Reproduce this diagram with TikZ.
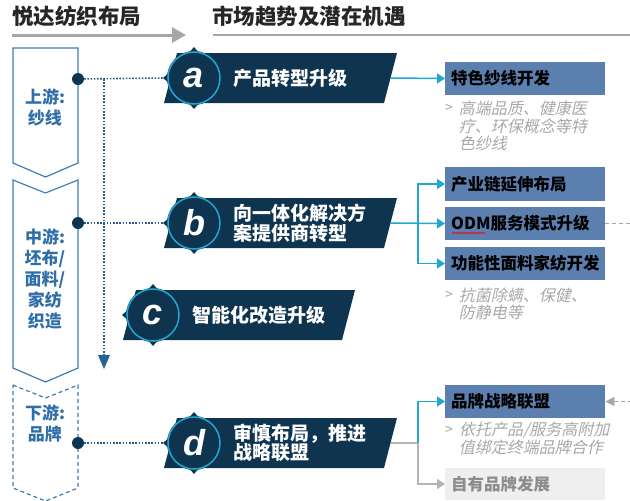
\documentclass[tikz,border=0pt]{standalone}
\usepackage{fontspec}
\setmainfont{Noto Sans CJK SC}
\newfontfamily\letfont{Liberation Sans}
\usetikzlibrary{arrows.meta,decorations.pathmorphing}
\definecolor{navy}{HTML}{0E3450}
\definecolor{cyanc}{HTML}{22A8CF}
\definecolor{steel}{HTML}{5B7FAE}
\definecolor{leftblue}{HTML}{3C7DB4}
\definecolor{lefttext}{HTML}{2F6FA8}
\definecolor{dotblue}{HTML}{245C8C}
\definecolor{hgrey}{HTML}{A6A6A6}
\definecolor{gtxt}{HTML}{A8A8A8}
\definecolor{lgbox}{HTML}{EFEFEF}
\definecolor{lgtxt}{HTML}{8C8C8C}
\definecolor{conngrey}{HTML}{B4B4B4}
\newcommand\mkbadge[6]{%
  \fill[navy] (#2+13,#4) -- (#3+13,#4) -- (#3,#4+50) -- (#2,#4+50) -- cycle;
  \coordinate (#1c) at (#2+30,#4+25);
  \fill[navy] (#1c) circle (27);
  \foreach \ang in {0,90,180,270}
    \fill[navy] ([shift={(\ang:31)}]#1c) -- ([shift={(\ang+17:24)}]#1c) -- ([shift={(\ang-17:24)}]#1c) -- cycle;
  \draw[cyanc, line width=1.5pt] (#1c) circle (26);
  \node[lettr] (#1l) at (#1c) {#5};
  \coordinate (#1L) at ([shift={(-31,0)}]#1c);
  \coordinate (#1R) at (#3+6.5,#4+25);
  \node[badgetext, anchor=west] (#1t) at (#2+69,#4+25) {#6};
}
\newcommand\slline[4]{%
  \begin{scope}[shift={(#2,#3)}, xslant=0.22]
    \node[gtext, transform shape] (#1) at (0,0) {#4};
  \end{scope}}
\begin{document}
\begin{tikzpicture}[x=1pt,y=-1pt,
  rbox/.style={fill=steel, anchor=west, minimum height=33pt, text width=148pt, inner xsep=6pt, inner ysep=0pt,
     font=\bfseries\fontsize{16.5}{18}\selectfont, text=black, align=left},
  gtext/.style={anchor=west, text=gtxt, font=\fontsize{16}{17.5}\selectfont, inner sep=0pt},
  gmark/.style={text=gtxt, font=\fontsize{14}{16}\selectfont, inner sep=0pt},
  lbtext/.style={text=lefttext, font=\bfseries\fontsize{17}{21}\selectfont, align=center, inner sep=0pt},
  badgetext/.style={text=white, font=\bfseries\fontsize{19}{19.5}\selectfont, align=left, inner sep=0pt},
  lettr/.style={text=white, font=\letfont\bfseries\itshape\fontsize{36}{36}\selectfont, inner sep=0pt},
  dotln/.style={dotblue, line width=1.6pt, dash pattern=on 1.6pt off 1.6pt},
  cyanln/.style={cyanc, line width=1.5pt},
  cyanarr/.style={cyanln, -{Triangle[length=8pt,width=10pt]}},
  greyln/.style={conngrey, line width=1.5pt},
  greyarr/.style={greyln, -{Triangle[length=8pt,width=10pt]}},
  dashln/.style={hgrey, line width=0.8pt, dash pattern=on 4pt off 3pt},
  hdr/.style={anchor=west, text=black!85, font=\bfseries\fontsize{21.5}{24}\selectfont, inner sep=0pt}
]
\useasboundingbox (0,0) rectangle (630,501);
\clip (0,0) rectangle (630,501);

% header
\node[hdr] (h1) at (12,16) {悦达纺织布局};
\node[hdr] (h2) at (212,16) {市场趋势及潜在机遇};
\coordinate (ha1) at (12,35);
\coordinate (ha2) at (186,35);
\draw[hgrey, line width=3pt, -{Triangle[length=14pt,width=15pt]}] (ha1) -- (ha2);
\coordinate (hb1) at (213,35);
\coordinate (hb2) at (630,35);
\draw[hgrey, line width=2.5pt] (hb1) -- (hb2);

% left chevrons
\draw[leftblue, line width=1.2pt] (13,48) -- (78,48) -- (78,163) -- (45.5,177) -- (13,163) -- cycle;
\draw[leftblue, line width=1.2pt] (13,180) -- (45.5,193) -- (78,180) -- (78,368) -- (45.5,382) -- (13,368) -- cycle;
\draw[leftblue, line width=1.2pt, dash pattern=on 4pt off 3pt] (13,385) -- (45.5,398) -- (78,385) -- (78,488) -- (45.5,501) -- (13,488) -- cycle;
\node[lbtext] (l1) at (45,107.5) {上游:\\纱线};
\node[lbtext] (l2) at (45,278.5) {中游:\\坯布/\\面料/\\家纺\\织造};
\node[lbtext] (l3) at (45,423.5) {下游:\\品牌};

% badges
\mkbadge{a}{164}{384}{53}{a}{产品转型升级}
\mkbadge{b}{164}{384}{198}{b}{向一体化解决方\\案提供商转型}
\mkbadge{c}{123}{342}{290}{c}{智能化改造升级}
\mkbadge{d}{164}{384}{418}{d}{审慎布局，推进\\战略联盟}

% dots and dotted lines
\node[circle, fill=navy, minimum size=12pt, inner sep=0pt] (dA) at (78,79) {};
\node[circle, fill=navy, minimum size=12pt, inner sep=0pt] (dB) at (78,223) {};
\node[circle, fill=navy, minimum size=12pt, inner sep=0pt] (dD) at (78,443) {};
\draw[dotln] (dA) -- (aL);
\draw[dotln] (dB) -- (bL);
\draw[dotln] (dD) -- (dL);
\coordinate (vtop) at (104,79);
\coordinate (vbot) at (104,369);
\draw[dotln] (vtop) -- (104,356);
\draw[fill=dotblue!90!cyanc, draw=none] (98,355) -- (110,355) -- (vbot) -- cycle;

% right boxes
\node[rbox] (r1) at (445,78.5) {特色纱线开发};
\node[rbox, minimum height=34pt] (r2) at (445,184) {产业链延伸布局};
\node[rbox] (r3) at (445,223.5) {ODM服务模式升级};
\node[rbox] (r4) at (445,263.5) {功能性面料家纺开发};
\node[rbox] (r5) at (445,401.5) {品牌战略联盟};
\node[rbox, fill=lgbox, text=lgtxt, minimum height=32pt] (r6) at (445,484) {自有品牌发展};
\draw[red, line width=0.6pt, decorate, decoration={snake, amplitude=0.7pt, segment length=2.6pt}] (452,233) -- (485,233);

% grey notes
\node[gmark] (m1) at (449,108) {>};
\slline{g1a}{460}{108}{高端品质、健康医}
\slline{g1b}{460}{126}{疗、环保概念等特}
\slline{g1c}{460}{143.5}{色纱线}
\node[gmark] (m2) at (449,295) {>};
\slline{g2a}{460}{295}{抗菌除螨、保健、}
\slline{g2b}{460}{312}{防静电等}
\node[gmark] (m3) at (449,430) {>};
\slline{g3a}{460}{430}{依托产品/服务高附加}
\slline{g3b}{460}{447}{值绑定终端品牌合作}

% connectors
\draw[cyanarr] (aR) -- (r1.west);
\coordinate (bJ) at (418,223.5);
\draw[cyanarr] (bR) -- (r3.west);
\draw[cyanarr] (bJ) |- (r2.west);
\draw[cyanarr] (bJ) |- (r4.west);
\coordinate (dJ) at (418,443);
\draw[greyln] (dR) -- (dJ);
\draw[cyanarr] (dJ) |- (r5.west);
\draw[greyarr] (dJ) |- (r6.west);

% dashed feedback
\coordinate (o1) at (645,223.5);
\coordinate (o2) at (645,401.5);
\draw[dashln, -{Triangle[length=9pt,width=9pt]}] (r3.east) -- (o1) -- (o2) -- (r5.east);
\end{tikzpicture}
\end{document}
